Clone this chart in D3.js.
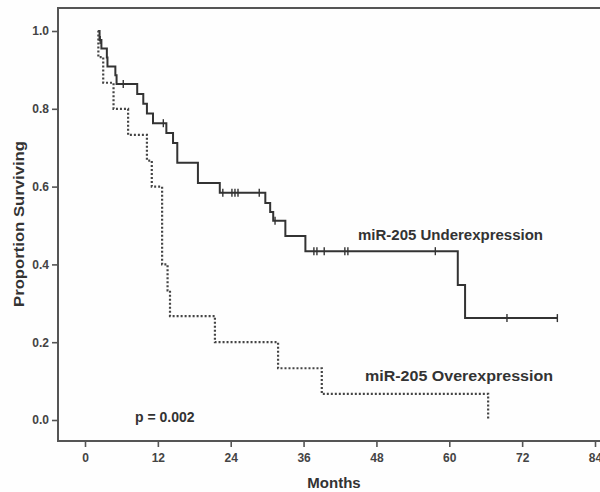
<!DOCTYPE html>
<meta charset="utf-8">
<style>
body{margin:0; background:#fefefe;}
svg text{font-family: "Liberation Sans", Arial, sans-serif; fill:#333;}
.tick text{font-weight:bold; font-size:12px; fill:#444;}
.tick line{stroke:#555; stroke-width:1.6px;}
</style>
<svg id="chart" width="600" height="492"></svg>
<script src="https://d3js.org/d3.v7.min.js"></script>
<script>
// months and survival (Kaplan-Meier steps)
const xTicks = [0, 12, 24, 36, 48, 60, 72, 84]
const yTicks = [0, 0.2, 0.4, 0.6, 0.8, 1.0]

const underStart = 2.2
const underTimes = [2.4, 2.7, 3.6, 3.7, 5.0, 5.2, 8.6, 9.6, 10.2, 11.2, 13.4, 14.5, 15.2, 18.6, 22.2, 29.7, 30.5, 31.0, 33.0, 36.3, 61.4, 62.6]
const underSurv = [0.977, 0.955, 0.932, 0.909, 0.886, 0.864, 0.838, 0.813, 0.788, 0.763, 0.738, 0.712, 0.661, 0.609, 0.584, 0.558, 0.535, 0.512, 0.473, 0.434, 0.347, 0.262]
const underCensored = [2.5, 6.3, 12.9, 22.7, 24.2, 24.7, 25.2, 28.7, 31.3, 37.7, 38.2, 39.4, 42.8, 43.3, 57.7, 69.5, 77.8]

const overStart = 2.1
const overTimes = [2.2, 3.0, 4.7, 7.1, 10.2, 11.0, 12.7, 13.6, 14.0, 21.4, 31.8, 39.0, 66.4]
const overSurv = [0.933, 0.867, 0.8, 0.733, 0.667, 0.6, 0.4, 0.333, 0.267, 0.2, 0.133, 0.067, 0]

const svg = d3.select('#chart')
const x = d3.scaleLinear().domain([0, 84]).range([85, 595])
const y = d3.scaleLinear().domain([0, 1]).range([420, 31])

// frame (right edge runs off the picture)
svg.append('path')
  .attr('d', 'M610,8H58V441H610')
  .attr('fill', 'none').attr('stroke', '#555').attr('stroke-width', 2)

svg.append('g').attr('transform', 'translate(0,441)')
  .call(d3.axisBottom(x).tickValues(xTicks).tickSize(6).tickPadding(6))
  .call(g => g.select('.domain').remove())

svg.append('g').attr('transform', 'translate(58,0)')
  .call(d3.axisLeft(y).tickValues(yTicks).tickSize(6).tickPadding(3).tickFormat(d3.format('.1f')))
  .call(g => g.select('.domain').remove())

function steps(start, times, surv) {
  let pts = [[start, 1]]
  times.forEach((t, i) => pts.push([t, surv[i]]))
  return pts
}
function survAt(t, times, surv) {
  let s = 1
  times.forEach((tt, i) => { if (tt <= t) s = surv[i] })
  return s
}

const line = d3.line().x(d => x(d[0])).y(d => y(d[1])).curve(d3.curveStepAfter)

let underPts = steps(underStart, underTimes, underSurv)
underPts.push([d3.max(underCensored), underSurv[underSurv.length - 1]])

svg.append('path').datum(underPts)
  .attr('d', line).attr('fill', 'none')
  .attr('stroke', '#333').attr('stroke-width', 2)

svg.selectAll('line.censor').data(underCensored).join('line')
  .attr('class', 'censor')
  .attr('x1', d => x(d)).attr('x2', d => x(d))
  .attr('y1', d => y(survAt(d, underTimes, underSurv)) - 4)
  .attr('y2', d => y(survAt(d, underTimes, underSurv)) + 4)
  .attr('stroke', '#333').attr('stroke-width', 1.4)

svg.append('path').datum(steps(overStart, overTimes, overSurv))
  .attr('d', line).attr('fill', 'none')
  .attr('stroke', '#444').attr('stroke-width', 2.2)
  .attr('stroke-dasharray', '2,2')

// labels
svg.append('text').attr('x', 358).attr('y', 240)
  .attr('textLength', 185).attr('lengthAdjust', 'spacingAndGlyphs')
  .style('font-size', '14px').style('font-weight', 'bold')
  .text('miR-205 Underexpression')

svg.append('text').attr('x', 365).attr('y', 381)
  .attr('textLength', 188).attr('lengthAdjust', 'spacingAndGlyphs')
  .style('font-size', '14.5px').style('font-weight', 'bold')
  .text('miR-205 Overexpression')

svg.append('text').attr('x', 135).attr('y', 422)
  .style('font-size', '14px').style('font-weight', 'bold')
  .text('p = 0.002')

svg.append('text').attr('x', 334).attr('y', 488).attr('text-anchor', 'middle')
  .style('font-size', '15px').style('font-weight', 'bold')
  .text('Months')

svg.append('text').attr('transform', 'translate(24,224) rotate(-90)')
  .attr('text-anchor', 'middle')
  .attr('textLength', 166).attr('lengthAdjust', 'spacingAndGlyphs')
  .style('font-size', '15px').style('font-weight', 'bold')
  .text('Proportion Surviving')
</script>
